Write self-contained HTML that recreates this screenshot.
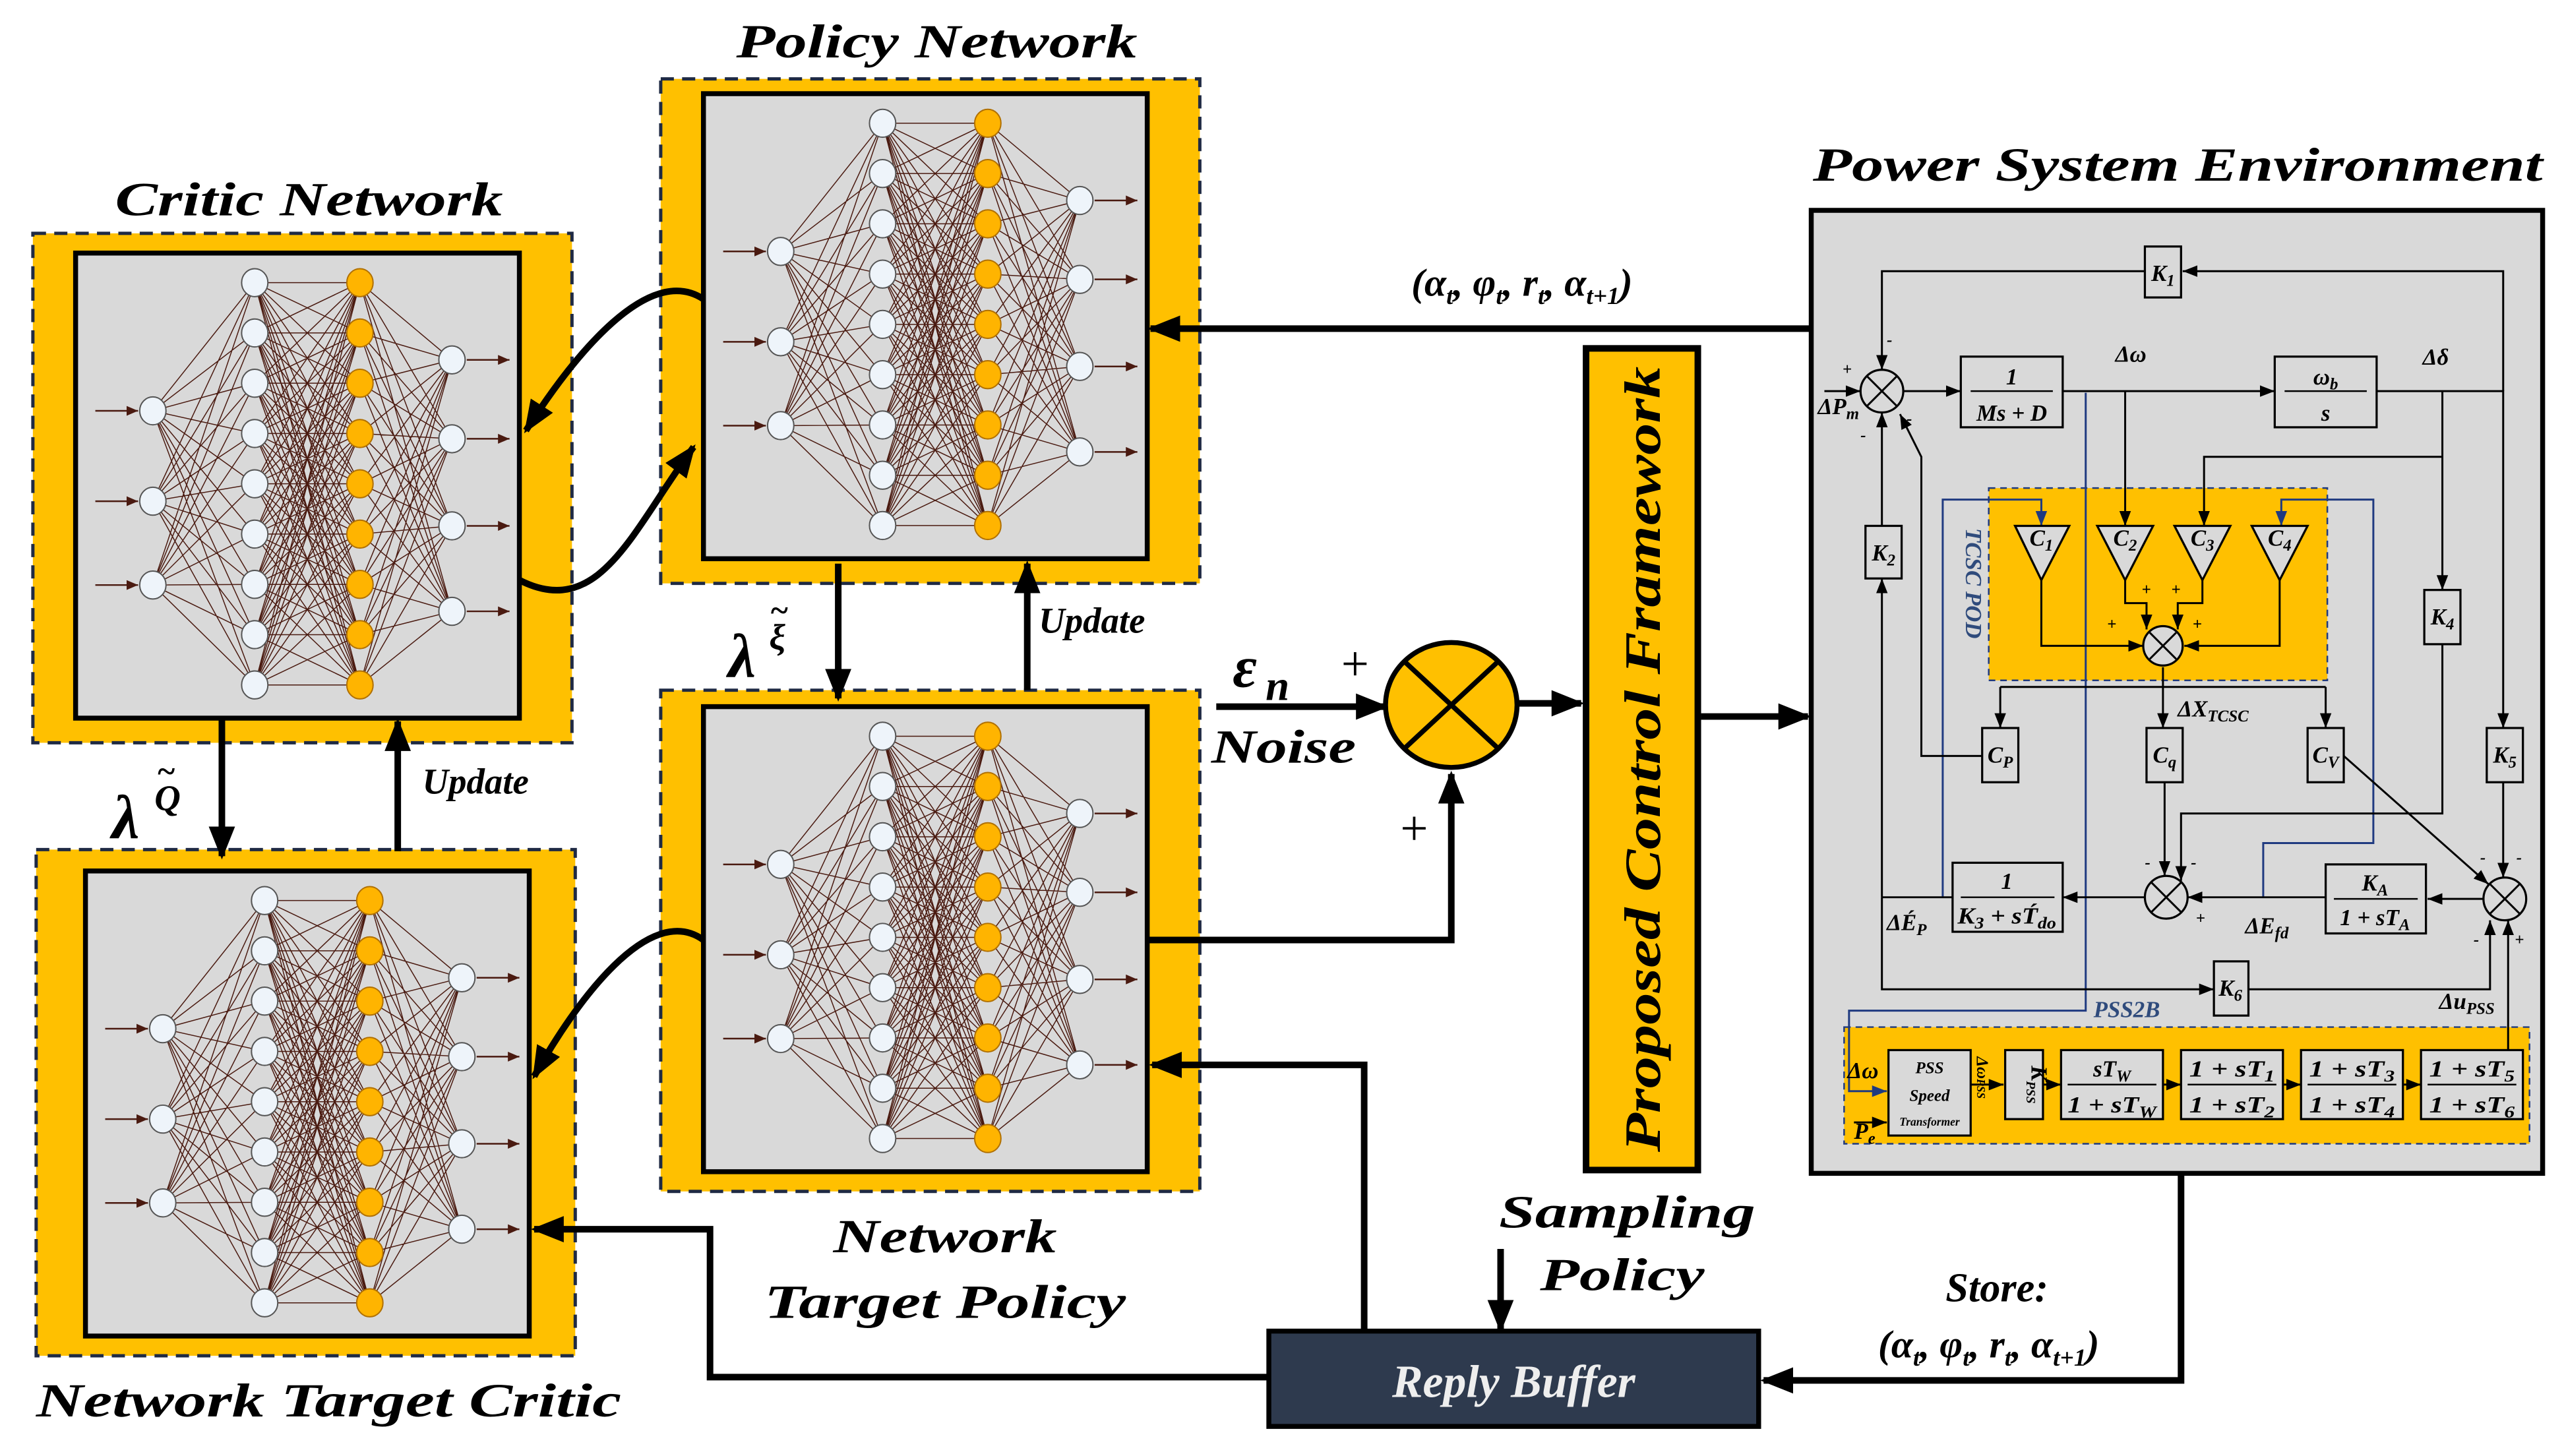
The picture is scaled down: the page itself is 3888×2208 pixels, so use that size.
<!DOCTYPE html>
<html><head><meta charset="utf-8"><style>
html,body{margin:0;padding:0;background:#fff}
svg{display:block}
text{font-family:"Liberation Serif",serif;font-weight:bold;font-style:italic}
.t{font-size:29px}
.m{font-size:14px}
.s{font-size:10px}
</style></head><body>
<svg width="3888" height="2208" viewBox="0 0 1560 886" preserveAspectRatio="none" xmlns="http://www.w3.org/2000/svg">
<defs>
<marker id="A" markerUnits="userSpaceOnUse" markerWidth="20" markerHeight="20" refX="18" refY="10" orient="auto"><path d="M0,2 L20,10 L0,18 z" fill="#000"/></marker>
<marker id="a" markerUnits="userSpaceOnUse" markerWidth="9" markerHeight="8" refX="9" refY="4" orient="auto"><path d="M0,0.5 L9,4 L0,7.5 z" fill="#000"/></marker>
<marker id="b" markerUnits="userSpaceOnUse" markerWidth="9" markerHeight="8" refX="9" refY="4" orient="auto"><path d="M0,0.5 L9,4 L0,7.5 z" fill="#1f3a80"/></marker>
<marker id="n" markerUnits="userSpaceOnUse" markerWidth="7" markerHeight="6" refX="7" refY="3" orient="auto"><path d="M0,0 L7,3 L0,6 z" fill="#4a1a10"/></marker>
<g id="net">
<rect x="0" y="0" width="270" height="283" fill="#d9d9d9" stroke="#000" stroke-width="3"/>
<g id="lines" stroke="#4a1a10" stroke-width="0.6" fill="none"></g>
<g id="nodes"></g>
</g>
</defs>

<rect x="20" y="142" width="328" height="310" fill="#ffc000" stroke="#1f2a44" stroke-width="2" stroke-dasharray="8,5"/>
<use href="#net" x="46" y="154"/>
<rect x="402" y="48" width="328" height="307" fill="#ffc000" stroke="#1f2a44" stroke-width="2" stroke-dasharray="8,5"/>
<use href="#net" x="428" y="57"/>
<rect x="402" y="420" width="328" height="305" fill="#ffc000" stroke="#1f2a44" stroke-width="2" stroke-dasharray="8,5"/>
<use href="#net" x="428" y="430"/>
<rect x="22" y="517" width="328" height="308" fill="#ffc000" stroke="#1f2a44" stroke-width="2" stroke-dasharray="8,5"/>
<use href="#net" x="52" y="530"/>

<text class="t" x="570" y="35" text-anchor="middle" textLength="244" lengthAdjust="spacingAndGlyphs">Policy Network</text>
<text class="t" x="188" y="131" text-anchor="middle" textLength="236" lengthAdjust="spacingAndGlyphs">Critic Network</text>
<text class="t" x="575" y="762" text-anchor="middle" textLength="136" lengthAdjust="spacingAndGlyphs">Network</text>
<text class="t" x="575" y="802" text-anchor="middle" textLength="220" lengthAdjust="spacingAndGlyphs">Target Policy</text>
<text class="t" x="200" y="862" text-anchor="middle" textLength="356" lengthAdjust="spacingAndGlyphs">Network Target Critic</text>

<g fill="none" stroke="#000" stroke-width="4">
<path d="M428,182 C395,160 350,215 320,262" marker-end="url(#A)"/>
<path d="M316,353 C365,378 385,322 422,272" marker-end="url(#A)"/>
<path d="M428,572 C395,548 350,610 325,655" marker-end="url(#A)"/>
<path d="M510,343 L510,425" marker-end="url(#A)"/>
<path d="M625,420 L625,343" marker-end="url(#A)"/>
<path d="M135,438 L135,521" marker-end="url(#A)"/>
<path d="M242,518 L242,439" marker-end="url(#A)"/>
<path d="M698,572 L883,572 L883,471" marker-end="url(#A)"/>
<path d="M740,430 L843,430" marker-end="url(#A)"/>
<path d="M923,428 L962,428" marker-end="url(#A)"/>
<path d="M1035,436 L1100,436" marker-end="url(#A)"/>
<path d="M1102,200 L700,200" marker-end="url(#A)"/>
<path d="M1327,714 L1327,840 L1073,840" marker-end="url(#A)"/>
<path d="M830,810 L830,648 L701,648" marker-end="url(#A)"/>
<path d="M772,838 L432,838 L432,748 L325,748" marker-end="url(#A)"/>
<path d="M913,760 L913,809" marker-end="url(#A)"/>
</g>
<text style="font-size:22px" x="632" y="385">Update</text>
<text style="font-size:22px" x="257" y="483">Update</text>
<text style="font-size:38px" x="443" y="412">λ</text><text style="font-size:22px" x="468" y="395">ξ</text><text style="font-size:20px;font-style:normal" x="469" y="378">~</text>
<text style="font-size:38px" x="68" y="510">λ</text><text style="font-size:22px" x="94" y="493">Q</text><text style="font-size:20px;font-style:normal" x="96" y="476">~</text>

<ellipse cx="883" cy="429" rx="40" ry="38" fill="#ffc000" stroke="#000" stroke-width="3"/>
<path d="M855,403 L911,455 M911,403 L855,455" stroke="#000" stroke-width="3"/>
<text style="font-size:36px" x="750" y="418">ε</text><text style="font-size:26px" x="770" y="426">n</text>
<text style="font-size:30px;font-style:normal;font-weight:normal" x="816" y="414">+</text>
<text style="font-size:30px;font-style:normal;font-weight:normal" x="852" y="514">+</text>
<text style="font-size:29px" x="737" y="464" textLength="88" lengthAdjust="spacingAndGlyphs">Noise</text>

<rect x="965" y="212" width="68" height="500" fill="#ffc000" stroke="#000" stroke-width="4"/>
<text style="font-size:31px" transform="translate(1010,462) rotate(-90)" text-anchor="middle" textLength="478" lengthAdjust="spacingAndGlyphs">Proposed Control Framework</text>

<rect x="772" y="810" width="298" height="58" fill="#2e3a4e" stroke="#000" stroke-width="3"/>
<text style="font-size:28px" x="921" y="850" fill="#eee" text-anchor="middle">Reply Buffer</text>
<text style="font-size:28px" x="990" y="747" text-anchor="middle" textLength="156" lengthAdjust="spacingAndGlyphs">Sampling</text>
<text style="font-size:28px" x="987" y="785" text-anchor="middle" textLength="100" lengthAdjust="spacingAndGlyphs">Policy</text>
<text style="font-size:25px" x="1215" y="792" text-anchor="middle">Store:</text>
<text style="font-size:24px" x="1210" y="826" text-anchor="middle">(α<tspan font-size="15" dy="5">t</tspan><tspan dy="-5">, φ</tspan><tspan font-size="15" dy="5">t</tspan><tspan dy="-5">, r</tspan><tspan font-size="15" dy="5">t</tspan><tspan dy="-5">, α</tspan><tspan font-size="15" dy="5">t+1</tspan><tspan dy="-5">)</tspan></text>
<text style="font-size:24px" x="926" y="180" text-anchor="middle">(α<tspan font-size="15" dy="5">t</tspan><tspan dy="-5">, φ</tspan><tspan font-size="15" dy="5">t</tspan><tspan dy="-5">, r</tspan><tspan font-size="15" dy="5">t</tspan><tspan dy="-5">, α</tspan><tspan font-size="15" dy="5">t+1</tspan><tspan dy="-5">)</tspan></text>

<text class="t" x="1325" y="110" text-anchor="middle" textLength="444" lengthAdjust="spacingAndGlyphs">Power System Environment</text>
<rect x="1102" y="128" width="445" height="586" fill="#d9d9d9" stroke="#000" stroke-width="3"/>
<rect x="1210" y="297" width="206" height="117" fill="#ffc000" stroke="#1f3a80" stroke-width="1" stroke-dasharray="4,3"/>
<rect x="1122" y="625" width="417" height="71" fill="#ffc000" stroke="#1f3a80" stroke-width="1" stroke-dasharray="4,3"/>
<text class="m" fill="#2f4b7c" transform="translate(1196,355) rotate(90)" text-anchor="middle">TCSC POD</text>
<text class="m" fill="#2f4b7c" x="1294" y="619" text-anchor="middle">PSS2B</text>

<g fill="none" stroke="#1f3a80" stroke-width="1.2">
<path d="M1269,239 L1269,615 L1125,615 L1125,664 L1148,664" marker-end="url(#b)"/>
<path d="M1182,546 L1182,304 L1242,304 L1242,320" marker-end="url(#b)"/>
<path d="M1377,546 L1377,513 L1444,513 L1444,304 L1388,304 L1388,320" marker-end="url(#b)"/>
</g>

<g fill="none" stroke="#000" stroke-width="1.2">
<path d="M1523,238 L1523,165 L1328,165" marker-end="url(#a)"/>
<path d="M1305,165 L1145,165 L1145,225" marker-end="url(#a)"/>
<path d="M1110,238 L1132,238" marker-end="url(#a)"/>
<path d="M1158,238 L1193,238" marker-end="url(#a)"/>
<path d="M1255,238 L1384,238" marker-end="url(#a)"/>
<path d="M1446,238 L1523,238 L1523,443" marker-end="url(#a)"/>
<path d="M1293,238 L1293,320" marker-end="url(#a)"/>
<path d="M1486,238 L1486,359" marker-end="url(#a)"/>
<path d="M1486,278 L1341,278 L1341,320" marker-end="url(#a)"/>
<path d="M1145,320 L1145,251" marker-end="url(#a)"/>
<path d="M1145,546 L1145,352" marker-end="url(#a)"/>
<path d="M1145,546 L1188,546"/>
<path d="M1145,546 L1145,602 L1347,602" marker-end="url(#a)"/>
<path d="M1368,602 L1515,602 L1515,560" marker-end="url(#a)"/>
<path d="M1305,546 L1255,546" marker-end="url(#a)"/>
<path d="M1415,546 L1331,546" marker-end="url(#a)"/>
<path d="M1511,547 L1477,547" marker-end="url(#a)"/>
<path d="M1317,476 L1317,533" marker-end="url(#a)"/>
<path d="M1486,392 L1486,495 L1327,495 L1327,536" marker-end="url(#a)"/>
<path d="M1523,476 L1523,534" marker-end="url(#a)"/>
<path d="M1426,460 L1514,538" marker-end="url(#a)"/>
<path d="M1526,639 L1526,560" marker-end="url(#a)"/>
<path d="M1206,460 L1169,460 L1169,278 L1156,252" marker-end="url(#a)"/>
<path d="M1316,406 L1316,443" marker-end="url(#a)"/>
<path d="M1217,418 L1415,418"/>
<path d="M1217,418 L1217,443" marker-end="url(#a)"/>
<path d="M1415,418 L1415,443" marker-end="url(#a)"/>
<path d="M1242,353 L1242,393 L1304,393" marker-end="url(#a)"/>
<path d="M1387,353 L1387,393 L1329,393" marker-end="url(#a)"/>
<path d="M1293,353 L1293,367 L1306,367 L1306,383" marker-end="url(#a)"/>
<path d="M1340,353 L1340,367 L1325,367 L1325,383" marker-end="url(#a)"/>
<path d="M1128,683 L1148,683" marker-end="url(#a)"/>
<path d="M1199,660 L1219,660" marker-end="url(#a)"/>
<path d="M1243,660 L1254,660" marker-end="url(#a)"/>
<path d="M1316,660 L1327,660" marker-end="url(#a)"/>
<path d="M1389,660 L1400,660" marker-end="url(#a)"/>
<path d="M1462,660 L1473,660" marker-end="url(#a)"/>
</g>

<g fill="#d9d9d9" stroke="#000" stroke-width="1.3">
<rect x="1193" y="217" width="62" height="43"/>
<rect x="1384" y="217" width="62" height="43"/>
<rect x="1305" y="150" width="22" height="31"/>
<rect x="1135" y="320" width="22" height="32"/>
<rect x="1475" y="359" width="22" height="33"/>
<rect x="1513" y="443" width="22" height="33"/>
<rect x="1206" y="443" width="22" height="33"/>
<rect x="1306" y="443" width="22" height="33"/>
<rect x="1404" y="443" width="22" height="33"/>
<rect x="1347" y="585" width="21" height="33"/>
<rect x="1188" y="525" width="67" height="42"/>
<rect x="1415" y="526" width="61" height="42"/>
<rect x="1149" y="639" width="50" height="52"/>
<rect x="1220" y="639" width="23" height="42"/>
<rect x="1254" y="639" width="62" height="42"/>
<rect x="1327" y="639" width="62" height="42"/>
<rect x="1400" y="639" width="62" height="42"/>
<rect x="1473" y="639" width="62" height="42"/>
<path d="M1226,320 L1259,320 L1242,353 z"/>
<path d="M1276,320 L1310,320 L1293,353 z"/>
<path d="M1323,320 L1357,320 L1340,353 z"/>
<path d="M1370,320 L1404,320 L1387,353 z"/>
<circle cx="1145" cy="238" r="13"/>
<circle cx="1316" cy="393" r="12"/>
<circle cx="1318" cy="546" r="13"/>
<circle cx="1524" cy="547" r="13"/>
</g>
<g stroke="#000" stroke-width="1.2">
<path d="M1136,229 L1154,247 M1154,229 L1136,247"/>
<path d="M1308,385 L1324,401 M1324,385 L1308,401"/>
<path d="M1309,537 L1327,555 M1327,537 L1309,555"/>
<path d="M1515,538 L1533,556 M1533,538 L1515,556"/>
</g>
<g stroke="#000" stroke-width="1">
<path d="M1199,238 L1249,238 M1390,238 L1440,238 M1193,546 L1250,546 M1420,547 L1471,547 M1258,660 L1312,660 M1331,660 L1385,660 M1404,660 L1458,660 M1477,660 L1531,660"/>
</g>
<g text-anchor="middle">
<text class="m" x="1224" y="234">1</text><text class="m" x="1224" y="256">Ms + D</text>
<text class="m" x="1415" y="234">ω<tspan font-size="10" dy="3">b</tspan></text><text class="m" x="1415" y="256">s</text>
<text class="m" x="1316" y="171">K<tspan font-size="10" dy="3">1</tspan></text>
<text class="m" x="1146" y="341">K<tspan font-size="10" dy="3">2</tspan></text>
<text class="m" x="1486" y="380">K<tspan font-size="10" dy="3">4</tspan></text>
<text class="m" x="1524" y="464">K<tspan font-size="10" dy="3">5</tspan></text>
<text class="m" x="1357" y="606">K<tspan font-size="10" dy="3">6</tspan></text>
<text class="m" x="1217" y="464">C<tspan font-size="10" dy="3">P</tspan></text>
<text class="m" x="1317" y="464">C<tspan font-size="10" dy="3">q</tspan></text>
<text class="m" x="1415" y="464">C<tspan font-size="10" dy="3">V</tspan></text>
<text class="m" x="1242" y="332">C<tspan font-size="10" dy="3">1</tspan></text>
<text class="m" x="1293" y="332">C<tspan font-size="10" dy="3">2</tspan></text>
<text class="m" x="1340" y="332">C<tspan font-size="10" dy="3">3</tspan></text>
<text class="m" x="1387" y="332">C<tspan font-size="10" dy="3">4</tspan></text>
<text class="m" x="1221" y="541">1</text><text class="m" x="1221" y="562" textLength="60" lengthAdjust="spacingAndGlyphs">K<tspan font-size="10" dy="3">3</tspan><tspan dy="-3"> + sT́</tspan><tspan font-size="10" dy="3">do</tspan></text>
<text class="m" x="1445" y="542">K<tspan font-size="10" dy="3">A</tspan></text><text class="m" x="1445" y="563">1 + sT<tspan font-size="10" dy="3">A</tspan></text>
<text class="s" x="1174" y="653">PSS</text><text class="s" x="1174" y="670">Speed</text><text style="font-size:7px" x="1174" y="685">Transformer</text>
<text class="m" transform="translate(1236,660) rotate(90)">K<tspan font-size="8" dy="3">PSS</tspan></text>
<text class="m" x="1285" y="655">sT<tspan font-size="10" dy="3">W</tspan></text><text class="m" x="1285" y="677" textLength="54" lengthAdjust="spacingAndGlyphs">1 + sT<tspan font-size="10" dy="3">W</tspan></text>
<text class="m" x="1358" y="655" textLength="52" lengthAdjust="spacingAndGlyphs">1 + sT<tspan font-size="10" dy="3">1</tspan></text><text class="m" x="1358" y="677" textLength="52" lengthAdjust="spacingAndGlyphs">1 + sT<tspan font-size="10" dy="3">2</tspan></text>
<text class="m" x="1431" y="655" textLength="52" lengthAdjust="spacingAndGlyphs">1 + sT<tspan font-size="10" dy="3">3</tspan></text><text class="m" x="1431" y="677" textLength="52" lengthAdjust="spacingAndGlyphs">1 + sT<tspan font-size="10" dy="3">4</tspan></text>
<text class="m" x="1504" y="655" textLength="52" lengthAdjust="spacingAndGlyphs">1 + sT<tspan font-size="10" dy="3">5</tspan></text><text class="m" x="1504" y="677" textLength="52" lengthAdjust="spacingAndGlyphs">1 + sT<tspan font-size="10" dy="3">6</tspan></text>
</g>
<g>
<text class="m" x="1287" y="220">Δω</text>
<text class="m" x="1474" y="222">Δδ</text>
<text class="m" x="1106" y="252">ΔP<tspan font-size="10" dy="3">m</tspan></text>
<text class="m" x="1325" y="436">ΔX<tspan font-size="10" dy="3">TCSC</tspan></text>
<text class="m" x="1148" y="566">ΔÉ<tspan font-size="10" dy="3">P</tspan></text>
<text class="m" x="1366" y="568">ΔE<tspan font-size="10" dy="3">fd</tspan></text>
<text class="m" x="1484" y="614">Δu<tspan font-size="10" dy="3">PSS</tspan></text>
<text class="m" x="1124" y="656">Δω</text>
<text class="m" x="1128" y="693">P<tspan font-size="10" dy="3">e</tspan></text>
<text class="s" transform="translate(1203,643) rotate(90)">Δω<tspan font-size="7">PSS</tspan></text>
<text class="s" x="1121" y="228">+</text><text class="s" x="1148" y="210">-</text><text class="s" x="1132" y="268">-</text><text class="s" x="1160" y="258">-</text>
<text class="s" x="1282" y="383">+</text><text class="s" x="1334" y="383">+</text><text class="s" x="1303" y="362">+</text><text class="s" x="1321" y="362">+</text>
<text class="s" x="1305" y="528">-</text><text class="s" x="1333" y="528">-</text><text class="s" x="1336" y="562">+</text>
<text class="s" x="1509" y="525">-</text><text class="s" x="1531" y="525">-</text><text class="s" x="1505" y="575">-</text><text class="s" x="1530" y="575">+</text>
</g>
</svg>
<script>
(function(){
var NS="http://www.w3.org/2000/svg";
var L=document.getElementById("lines"),N=document.getElementById("nodes");
var ins=[96,151,202],h=[],outs=[65,113,166,218];
for(var i=0;i<9;i++)h.push(18+i*30.6);
var d="";
ins.forEach(function(a){h.forEach(function(b){d+="M47,"+a+"L109,"+b;});});
h.forEach(function(a){h.forEach(function(b){d+="M109,"+a+"L173,"+b;});});
h.forEach(function(a){outs.forEach(function(b){d+="M173,"+a+"L229,"+b;});});
var p=document.createElementNS(NS,"path");p.setAttribute("d",d);L.appendChild(p);
function arr(x1,y,x2){var q=document.createElementNS(NS,"path");q.setAttribute("d","M"+x1+","+y+"L"+x2+","+y);q.setAttribute("marker-end","url(#n)");q.setAttribute("stroke","#4a1a10");q.setAttribute("stroke-width","1");L.appendChild(q);}
ins.forEach(function(a){arr(12,a,38);});
outs.forEach(function(a){arr(238,a,264);});
function c(x,y,f,s){var e=document.createElementNS(NS,"ellipse");e.setAttribute("cx",x);e.setAttribute("cy",y);e.setAttribute("rx",8);e.setAttribute("ry",8.5);e.setAttribute("fill",f);e.setAttribute("stroke",s);e.setAttribute("stroke-width","0.8");N.appendChild(e);}
ins.forEach(function(a){c(47,a,"#eef4fa","#555");});
h.forEach(function(a){c(109,a,"#eef4fa","#555");c(173,a,"#ffb400","#b07000");});
outs.forEach(function(a){c(229,a,"#eef4fa","#555");});
})();
</script>
</body></html>
